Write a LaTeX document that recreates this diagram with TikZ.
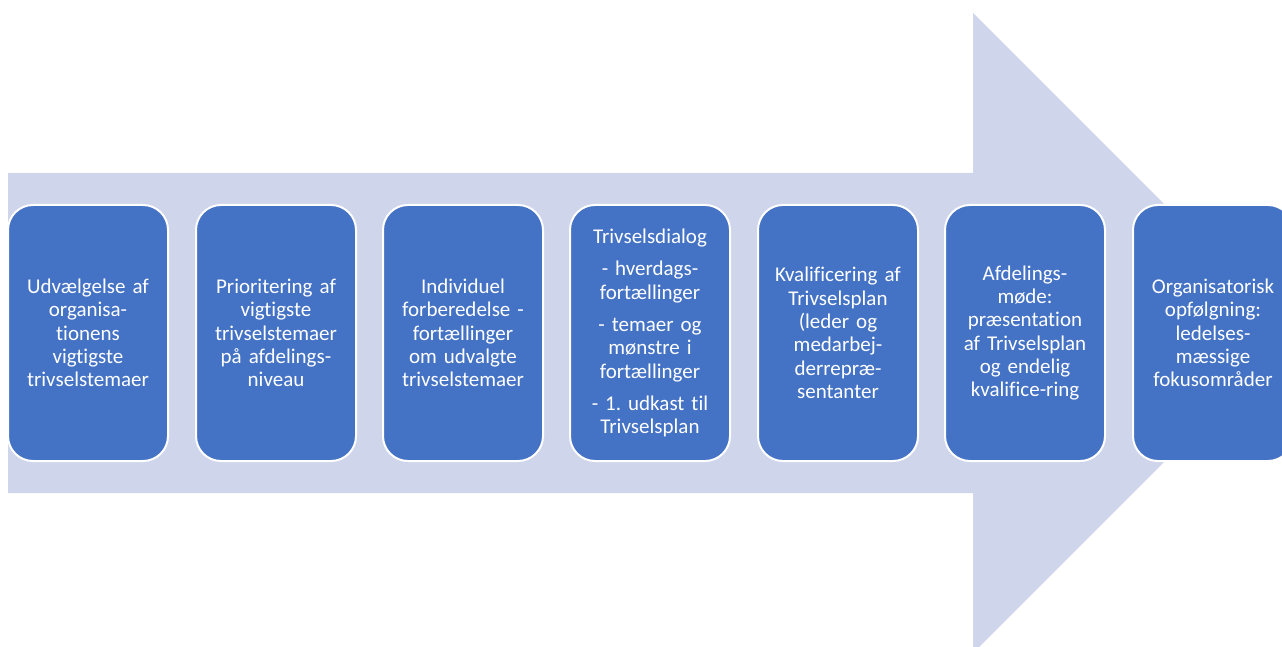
\documentclass[tikz,border=0pt]{standalone}
\usepackage{fontspec}
\setmainfont{Carlito}[Ligatures={NoCommon}]
\frenchspacing
\definecolor{arrowfill}{HTML}{CFD5EA}
\definecolor{boxfill}{HTML}{4472C4}
\begin{document}
\begin{tikzpicture}[x=1pt,y=-1pt,
  stepbox/.style={draw=white, line width=2pt, fill=boxfill, rounded corners=25pt,
    minimum width=160pt, minimum height=256pt, text width=150pt, align=center,
    text=white, inner sep=0pt, font=\fontsize{21}{23.3}\selectfont\frenchspacing},
  bigarrow/.style={fill=arrowfill, draw=none}]
\useasboundingbox (0,0) rectangle (1282,647);
\clip (0,0) rectangle (1282,647);
\draw[bigarrow] (8,173) -- (973,173) -- (973,13) -- (1293,333) -- (973,653) -- (973,493) -- (8,493) -- cycle;
\node[stepbox] (s1) at (88,333) {Udvælgelse af\\organisa-\\tionens\\vigtigste\\trivselstemaer};
\node[stepbox] (s2) at (276,333) {Prioritering af\\vigtigste\\trivselstemaer\\på afdelings-\\niveau};
\node[stepbox] (s3) at (463,333) {Individuel\\forberedelse -\\fortællinger\\om udvalgte\\trivselstemaer};
\node[stepbox] (s4) at (650,333) {Trivselsdialog\\[9pt]- hverdags-\\fortællinger\\[9pt]- temaer og\\mønstre i\\fortællinger\\[9pt]- 1. udkast til\\Trivselsplan};
\node[stepbox] (s5) at (838,333) {Kvalificering af\\Trivselsplan\\(leder og\\medarbej-\\derrepræ-\\sentanter};
\node[stepbox] (s6) at (1025,333) {Afdelings-\\møde:\\præsentation\\af Trivselsplan\\og endelig\\kvalifice-ring};
\node[stepbox] (s7) at (1213,333) {Organisatorisk\\opfølgning:\\ledelses-\\mæssige\\fokusområder};
\end{tikzpicture}
\end{document}
